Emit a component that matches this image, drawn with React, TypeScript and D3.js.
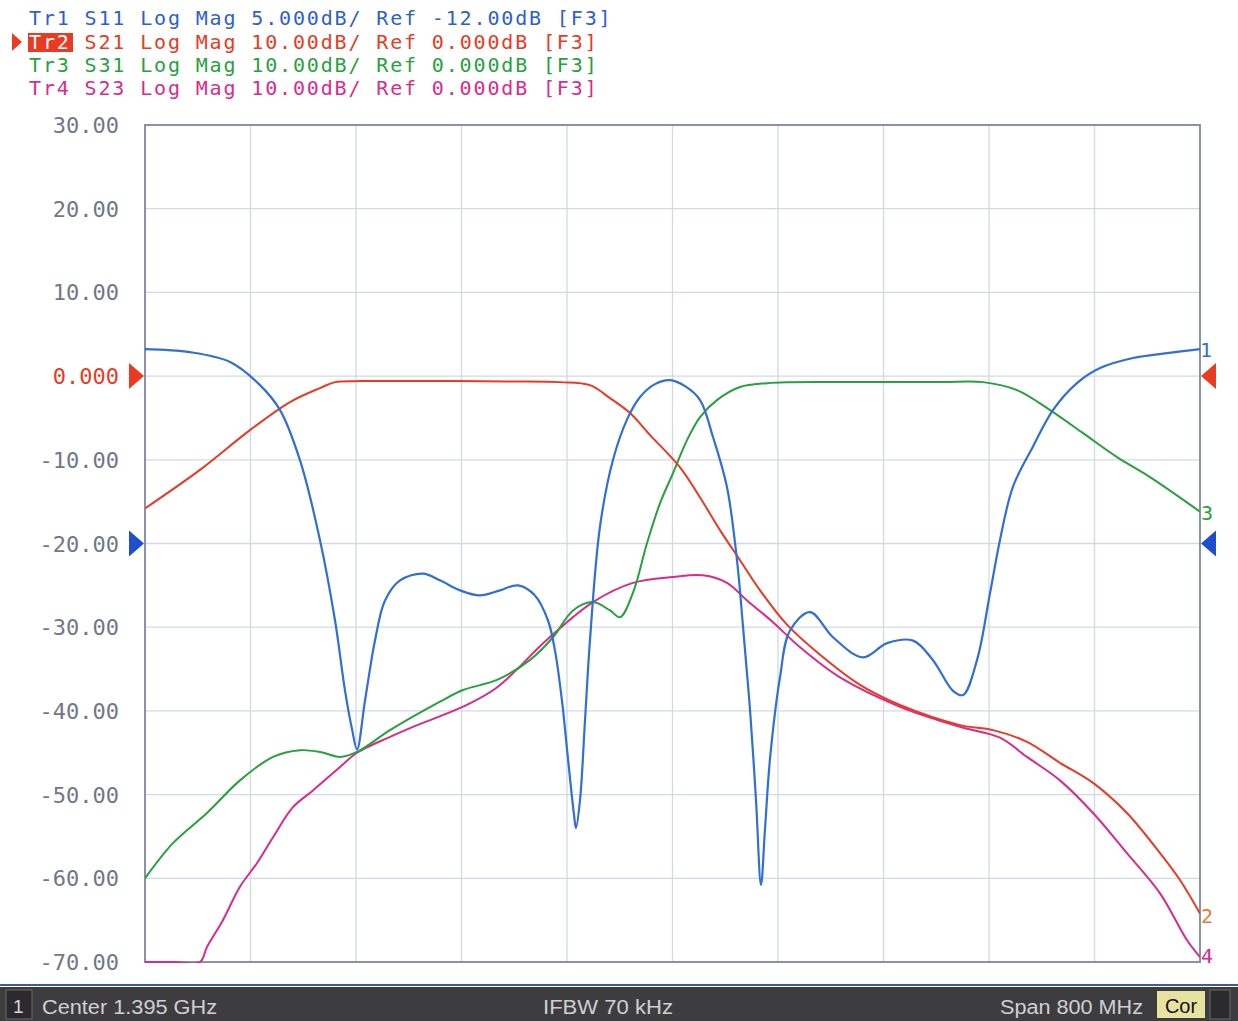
import React, { useEffect } from "react";
import * as d3 from "d3";

// Frequency axis (MHz)
const centerMHz = 1395;
const spanMHz = 800;
// Y tick labels (dB, 10 dB/div)
const yTicks = [30, 20, 10, 0, -10, -20, -30, -40, -50, -60, -70];
const yTickLabels = ["30.00", "20.00", "10.00", "0.000", "-10.00", "-20.00", "-30.00", "-40.00", "-50.00", "-60.00", "-70.00"];

const headerLines = [
  "Tr1 S11 Log Mag 5.000dB/ Ref -12.00dB [F3]",
  "Tr2 S21 Log Mag 10.00dB/ Ref 0.000dB [F3]",
  "Tr3 S31 Log Mag 10.00dB/ Ref 0.000dB [F3]",
  "Tr4 S23 Log Mag 10.00dB/ Ref 0.000dB [F3]",
];

// S11: 5 dB/div, Ref -12 dB (values in its own dB)
const s11Freq = [995, 1029, 1059.5, 1082.2, 1097.4, 1112.5, 1127.7, 1139.1, 1146.7, 1152, 1155.8, 1161.8, 1169.4, 1177, 1188.4, 1205.8, 1218.7, 1233.9, 1249, 1264.2, 1277.8, 1290.7, 1300.6, 1305.9, 1311.2, 1315.8, 1320.3, 1321.8, 1324.9, 1328.7, 1332.4, 1340, 1349.9, 1360.5, 1370.4, 1381.7, 1393.1, 1404.5, 1415.9, 1425.7, 1436.3, 1443.9, 1448.5, 1453.8, 1458.3, 1462.1, 1465.1, 1468.9, 1476.5, 1484.1, 1499.3, 1516.7, 1539.5, 1557.7, 1577.4, 1592.5, 1607.7, 1615.3, 1625.9, 1635.8, 1643.3, 1653.2, 1668.4, 1683.5, 1701.7, 1719.2, 1744.2, 1770, 1795];
const s11Db = [-0.39, -0.57, -1.16, -2.54, -4.03, -7.02, -11.8, -16.6, -20.8, -23.1, -24.3, -21.4, -17.8, -15.4, -14.2, -13.8, -14.2, -14.8, -15.1, -14.8, -14.5, -15.1, -16.6, -18.4, -21.4, -24.9, -28.2, -29.0, -27.3, -22.5, -17.8, -11.0, -7.0, -4.6, -3.25, -2.48, -2.24, -2.6, -3.43, -5.64, -8.63, -13.0, -17.0, -21.95, -27.3, -32.4, -29.1, -24.9, -20.0, -17.2, -16.1, -17.6, -18.8, -17.95, -17.8, -18.97, -20.8, -21.05, -18.97, -14.96, -11.8, -8.6, -6.2, -4.03, -2.42, -1.52, -0.92, -0.63, -0.39];

// S21
const s21Freq = [995, 1036.7, 1074.6, 1105, 1127.7, 1139.1, 1158, 1190, 1226.3, 1270, 1309.7, 1332.4, 1347.6, 1362.8, 1378, 1400.7, 1415.9, 1431, 1446.2, 1461.4, 1481.8, 1506.9, 1537.2, 1567.5, 1613, 1638, 1663.8, 1688.8, 1713.9, 1739.6, 1764.7, 1779.8, 1795];
const s21Db = [-15.8, -11.2, -6.45, -3.1, -1.43, -0.72, -0.6, -0.6, -0.6, -0.65, -0.72, -1.08, -2.63, -4.42, -7.05, -10.9, -14.5, -18.4, -22.0, -25.6, -29.7, -33.3, -36.9, -39.3, -41.7, -42.3, -43.7, -46.2, -48.6, -52.2, -57.0, -60.2, -64.2];

// S31
const s31Freq = [995, 1016.2, 1042, 1067, 1092.1, 1112.5, 1127.7, 1142.9, 1155.8, 1180.8, 1218.7, 1236.1, 1261.9, 1287, 1304.4, 1319.6, 1334.7, 1347.6, 1355.2, 1365, 1375.7, 1385.5, 1395.4, 1406, 1415.9, 1428.7, 1446.2, 1466.7, 1484.1, 1520, 1560, 1600, 1630.5, 1656.2, 1681.3, 1706.3, 1732.1, 1757.1, 1795];
const s31Db = [-60.0, -55.8, -52.2, -48.3, -45.5, -44.7, -44.9, -45.5, -44.9, -42.3, -38.9, -37.5, -36.3, -33.9, -31.2, -28.0, -27.0, -28.0, -28.8, -25.9, -19.95, -15.2, -11.6, -7.65, -4.9, -2.87, -1.31, -0.84, -0.72, -0.7, -0.7, -0.7, -0.72, -1.67, -4.06, -6.81, -9.68, -12.07, -16.2];

// S23
const s23Freq = [995, 1016, 1036.7, 1042, 1054.1, 1067, 1079.9, 1092.1, 1107.2, 1122.4, 1142.9, 1155.8, 1180.8, 1198.2, 1236.1, 1261.9, 1299.8, 1334.7, 1365, 1395.4, 1418.1, 1436.3, 1451.5, 1471.2, 1491.7, 1522, 1567.5, 1613, 1643.3, 1663.8, 1688.8, 1713.9, 1739.6, 1764.7, 1785.2, 1795];
const s23Db = [-70, -70, -70, -68.2, -65.0, -61.0, -58.2, -55.1, -51.5, -49.5, -46.7, -45.0, -43.1, -41.9, -39.5, -37.2, -31.5, -27.0, -24.7, -24.0, -23.8, -24.7, -26.8, -29.4, -32.4, -36.0, -39.5, -41.9, -43.2, -45.5, -48.3, -52.2, -57.0, -61.8, -67.4, -69.4];

const W = 1238;
const H = 1021;
const PL = 145, PR = 1200, PT = 125, PB = 962;

const C_BLUE = "#2f6fd6";
const C_RED = "#ea3a22";
const C_GREEN = "#25a23c";
const C_MAG = "#dc2a8c";
const C_GRAY = "#6f7788";

export default function App() {
  useEffect(() => {
    document.body.style.margin = "0";
    document.body.style.background = "#ffffff";
  }, []);

  const x = d3.scaleLinear().domain([centerMHz - spanMHz / 2, centerMHz + spanMHz / 2]).range([PL, PR]);
  const y = d3.scaleLinear().domain([-70, 30]).range([PB, PT]).clamp(true);
  // S11 scale: 5 dB/div, ref -12 dB at the -20 graticule line
  const yS11 = d3.scaleLinear().domain([-37, 13]).range([PB, PT]).clamp(true);

  const mk = (fs: number[], vs: number[], sc: d3.ScaleLinear<number, number>) =>
    d3.line<number>().x((_, i) => x(fs[i])).y((_, i) => sc(vs[i])).curve(d3.curveCatmullRom.alpha(0.5))(vs) || "";

  const xGrid = d3.range(0, 11).map((i) => centerMHz - spanMHz / 2 + (i * spanMHz) / 10);

  const headerColors = ["#2d5fd0", C_RED, C_GREEN, C_MAG];
  const headerY = [25, 49, 72, 95];

  const tri = (cx: number, cy: number, dir: number) => {
    const w = 15, h = 13;
    return `M${cx},${cy - h} L${cx + dir * w},${cy} L${cx},${cy + h} Z`;
  };

  return (
    <svg width={W} height={H} style={{ display: "block", fontFamily: "DejaVu Sans Mono" }}>
      <defs>
        <clipPath id="plotClip">
          <rect x={PL} y={PT - 1} width={PR - PL} height={PB - PT + 2} />
        </clipPath>
      </defs>
      <rect width={W} height={H} fill="#ffffff" />
      {/* Header */}
      <path d="M12,33 L22,42 L12,51 Z" fill={C_RED} />
      <rect x={28} y={33} width={45} height={19} fill={C_RED} />
      {headerLines.map((t, i) => (
        <text key={i} x={29} y={headerY[i]} fontSize={20} letterSpacing={1.85} fill={headerColors[i]} xmlSpace="preserve">
          {i === 1 ? (
            <>
              <tspan fill="#ffffff">Tr2</tspan>
              {t.slice(3)}
            </>
          ) : (
            t
          )}
        </text>
      ))}

      {/* grid */}
      {xGrid.map((f, i) => (
        <line key={"gx" + i} x1={x(f)} x2={x(f)} y1={PT} y2={PB} stroke="#d2d8e6" strokeWidth={1.3} />
      ))}
      {yTicks.map((v, i) => (
        <line key={"gy" + i} x1={PL} x2={PR} y1={y(v)} y2={y(v)} stroke="#d2d8e6" strokeWidth={1.3} />
      ))}
      <rect x={PL} y={PT} width={PR - PL} height={PB - PT} fill="none" stroke="#8a93a6" strokeWidth={2} />

      {/* y labels */}
      {yTicks.map((v, i) => (
        <text key={"yl" + i} x={119} y={y(v) + 8} fontSize={22} textAnchor="end" fill={v === 0 ? C_RED : C_GRAY}>
          {yTickLabels[i]}
        </text>
      ))}

      {/* traces */}
      <g clipPath="url(#plotClip)">
        <path d={mk(s23Freq, s23Db, y)} fill="none" stroke={C_MAG} strokeWidth={2} />
        <path d={mk(s31Freq, s31Db, y)} fill="none" stroke={C_GREEN} strokeWidth={2} />
        <path d={mk(s21Freq, s21Db, y)} fill="none" stroke={C_RED} strokeWidth={2} />
        <path d={mk(s11Freq, s11Db, yS11)} fill="none" stroke={C_BLUE} strokeWidth={2.2} />
      </g>

      {/* ref markers */}
      <path d={tri(129, y(0), 1)} fill={C_RED} />
      <path d={tri(129, yS11(-12), 1)} fill="#1f4fd0" />
      <path d={tri(1216, y(0), -1)} fill={C_RED} />
      <path d={tri(1216, yS11(-12), -1)} fill="#1f4fd0" />

      {/* trace end labels */}
      <text x={1200} y={yS11(s11Db[s11Db.length - 1]) + 8} fontSize={20} fill={C_BLUE}>1</text>
      <text x={1201} y={y(s21Db[s21Db.length - 1]) + 10} fontSize={20} fill="#f07a2a">2</text>
      <text x={1201} y={y(s31Db[s31Db.length - 1]) + 8} fontSize={20} fill={C_GREEN}>3</text>
      <text x={1201} y={y(s23Db[s23Db.length - 1]) + 6} fontSize={20} fill={C_MAG}>4</text>

      {/* bottom status bar */}
      <line x1={0} x2={W} y1={985} y2={985} stroke="#3b5aa8" strokeWidth={2} />
      <rect x={0} y={987} width={W} height={34} fill="#3d3d3f" />
      <rect x={6} y={990} width={26} height={29} fill="#2a2a2c" stroke="#6a6a6a" strokeWidth={1} />
      <text x={13} y={1013} fontSize={19} fill="#d8d8d8" fontFamily="Liberation Sans">1</text>
      <text x={42} y={1014} fontSize={20} fill="#d0d0d0" fontFamily="Liberation Sans" textLength={175} lengthAdjust="spacingAndGlyphs">Center 1.395 GHz</text>
      <text x={543} y={1014} fontSize={20} fill="#d0d0d0" fontFamily="Liberation Sans" textLength={130} lengthAdjust="spacingAndGlyphs">IFBW 70 kHz</text>
      <text x={1000} y={1014} fontSize={20} fill="#d0d0d0" fontFamily="Liberation Sans" textLength={143} lengthAdjust="spacingAndGlyphs">Span 800 MHz</text>
      <rect x={1157} y={991} width={48} height={27} fill="#e8e2a0" />
      <text x={1181} y={1013} fontSize={20} fill="#111" fontFamily="Liberation Sans" textAnchor="middle">Cor</text>
      <rect x={1210} y={990} width={20} height={29} fill="#2a2a2c" stroke="#6a6a6a" strokeWidth={1} />
    </svg>
  );
}
